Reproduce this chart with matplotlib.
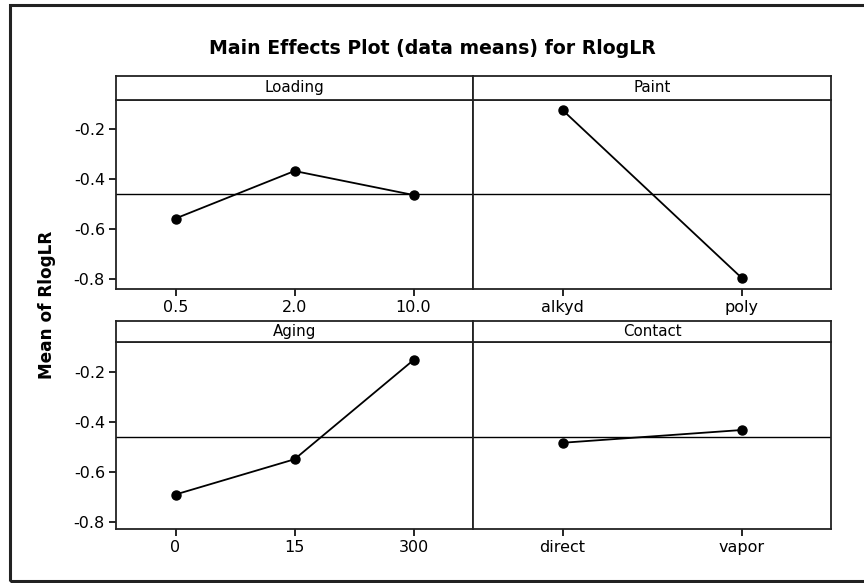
import numpy as np
import matplotlib.pyplot as plt
from matplotlib.patches import Rectangle

# Means
loading_levels = ["0.5", "2.0", "10.0"]
loading_means = [-0.557, -0.367, -0.463]
paint_levels = ["alkyd", "poly"]
paint_means = [-0.123, -0.794]
aging_levels = ["0", "15", "300"]
aging_means = [-0.689, -0.548, -0.151]
contact_levels = ["direct", "vapor"]
contact_means = [-0.482, -0.431]
grand_mean = -0.459

yticks = [-0.2, -0.4, -0.6, -0.8]

W, H = 864, 583
fig = plt.figure(figsize=(W / 100, H / 100), dpi=100)


def px_rect(x0, y0, x1, y1):
    # pixel box (top-left origin) -> figure fraction
    return [x0 / W, 1 - y1 / H, (x1 - x0) / W, (y1 - y0) / H]


# outer frame
fig.add_artist(Rectangle((10 / W, 1 - 581 / H), (870 - 10) / W, (581 - 5) / H,
                         transform=fig.transFigure, fill=False,
                         edgecolor="#222222", linewidth=2.2, clip_on=False))

fig.text(432 / W, 1 - 48 / H, "Main Effects Plot (data means) for RlogLR",
         ha="center", va="center", fontsize=13.6, fontweight="bold")
fig.text(47 / W, 1 - 305 / H, "Mean of RlogLR", rotation=90,
         ha="center", va="center", fontsize=12.2, fontweight="bold")

panels = [
    ("Loading", loading_levels, loading_means, (116, 473), (76, 99.5, 289), (-0.839, -0.081), True),
    ("Paint", paint_levels, paint_means, (473, 831), (76, 99.5, 289), (-0.839, -0.081), False),
    ("Aging", aging_levels, aging_means, (116, 473), (320.7, 342.3, 529), (-0.827, -0.080), True),
    ("Contact", contact_levels, contact_means, (473, 831), (320.7, 342.3, 529), (-0.827, -0.080), False),
]

for name, levels, means, (x0, x1), (ys, y0, y1), ylim, show_y in panels:
    ax = fig.add_axes(px_rect(x0, y0, x1, y1))
    pos = np.arange(1, len(levels) + 1)
    ax.axhline(grand_mean, color="black", linewidth=1.0)
    ax.plot(pos, means, color="black", linewidth=1.3, marker="o", markersize=6.5)
    ax.set_xlim(0.5, len(levels) + 0.5)
    ax.set_ylim(*ylim)
    ax.set_xticks(pos)
    ax.set_xticklabels(levels, fontsize=11.5)
    ax.tick_params(axis="x", length=5, width=1.2, direction="out", pad=3)
    if show_y:
        ax.set_yticks(yticks)
        ax.set_yticklabels(["-0.2", "-0.4", "-0.6", "-0.8"], fontsize=11.5)
        ax.tick_params(axis="y", length=5, width=1.2, direction="out", pad=3)
    else:
        ax.set_yticks([])
    for sp in ax.spines.values():
        sp.set_linewidth(1.3)
        sp.set_color("#222222")

    # strip header
    sx = fig.add_axes(px_rect(x0, ys, x1, y0))
    sx.set_xticks([])
    sx.set_yticks([])
    for sp in sx.spines.values():
        sp.set_linewidth(1.3)
        sp.set_color("#222222")
    sx.text(0.5, 0.5, name, ha="center", va="center", fontsize=10.8,
            transform=sx.transAxes)

fig.savefig("out.png", dpi=100)
